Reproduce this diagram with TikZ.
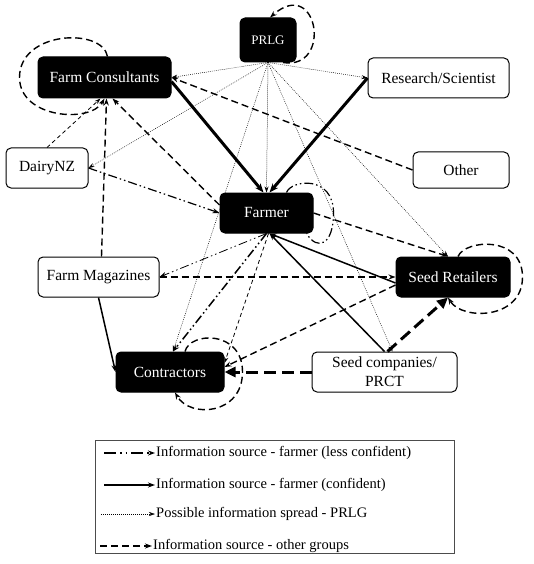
\documentclass[tikz,border=0pt]{standalone}
\usepackage{fontspec}
\setmainfont{Liberation Serif}
\usetikzlibrary{arrows.meta, positioning, calc}

\begin{document}
\begin{tikzpicture}[
        x=1pt, y=1pt,
        box/.style={rectangle, rounded corners=5pt, draw=black, line width=1pt, minimum height=40pt, inner sep=2pt, font=\fontsize{15.5}{19}\selectfont},
        dark/.style={box, fill=black, text=white},
        light/.style={box, fill=white},
        confident/.style={line width=1.5pt, -{Stealth[length=7pt, width=5pt]}},
        strong/.style={line width=3pt, -{Stealth[length=9pt, width=7pt]}},
        lessconf/.style={line width=1.2pt, dash pattern=on 9pt off 3pt on 1.5pt off 3pt on 1.5pt off 3pt, -{Stealth[length=7pt, width=5pt]}},
        spread/.style={line width=0.5pt, dash pattern=on 0.8pt off 1.2pt, -{Stealth[length=6pt, width=4pt]}},
        other/.style={line width=1.4pt, dash pattern=on 7pt off 4pt, -{Stealth[length=7pt, width=5pt]}},
        thindash/.style={line width=0.8pt, dash pattern=on 4pt off 3pt, -{Stealth[length=6pt, width=4pt]}},
        heavy/.style={line width=3pt, dash pattern=on 12pt off 6pt, -{Triangle[length=11pt, width=10pt]}},
        legtext/.style={anchor=west, inner sep=1pt, font=\fontsize{14.5}{17}\selectfont}
    ]
        \useasboundingbox (0,0) rectangle (534,-564);

        \node[dark, minimum width=56pt, minimum height=44pt, font=\fontsize{13}{15}\selectfont] (prlg) at (268,-40) {PRLG};
        \node[dark, minimum width=133pt, minimum height=41pt] (consult) at (104.5,-77.5) {Farm Consultants};
        \node[light, minimum width=141pt] (research) at (438.5,-78) {Research/Scientist};
        \node[light, minimum width=82pt] (dairy) at (47,-168) {DairyNZ};
        \node[light, minimum width=96pt, minimum height=36pt] (other) at (461,-170) {Other};
        \node[dark, minimum width=93pt] (farmer) at (266.5,-213) {Farmer};
        \node[light, minimum width=121pt] (mags) at (98.5,-277) {Farm Magazines};
        \node[dark, minimum width=114pt] (retail) at (453,-277) {Seed Retailers};
        \node[dark, minimum width=108pt] (contract) at (170,-372) {Contractors};
        \node[light, minimum width=145pt, align=center] (seedco) at (384.5,-372) {Seed companies/\\PRCT};

        \draw[spread] (prlg.south) -- (consult.east);
        \draw[spread] (prlg.south) -- (research.west);
        \draw[spread] (prlg.south) -- (dairy.east);
        \draw[spread] (prlg.south) -- (farmer.north);
        \draw[spread] (prlg.south) -- ([xshift=3pt]contract.north);
        \draw[spread] (prlg.south) -- ([xshift=-5pt]retail.north);
        \draw[spread] (prlg.south) -- ([xshift=8pt]seedco.north);

        \draw[strong] ([yshift=-4pt]consult.east) -- ([xshift=-3pt]farmer.north);
        \draw[strong] (research.west) -- ([xshift=3pt]farmer.north);

        \draw[other] (other.west) -- (consult.east);
        \draw[thindash] (dairy.north) -- ([xshift=-4pt]consult.south);
        \draw[other] ([xshift=3pt]mags.north) -- ([xshift=2pt]consult.south);
        \draw[other] ([yshift=8pt]farmer.west) -- ([xshift=8pt]consult.south);
        \draw[lessconf] (dairy.east) -- (farmer.west);
        \draw[lessconf, line width=0.8pt] (farmer.south) -- (mags.east);
        \draw[other] (mags.east) -- (retail.west);
        \draw[confident] (mags.south) -- (contract.west);
        \draw[confident] ([yshift=-6pt]retail.west) -- ([xshift=3pt]farmer.south);
        \draw[confident] (seedco.north) -- ([xshift=3pt]farmer.south);
        \draw[other] (farmer.east) -- ([xshift=-5pt]retail.north);
        \draw[heavy] ([xshift=3pt]seedco.north) -- ([xshift=-5pt]retail.south);
        \draw[heavy] (seedco.west) -- (contract.east);
        \draw[other] ([yshift=-8pt]retail.west) -- ([yshift=5pt]contract.east);
        \draw[lessconf, line width=1.5pt] (farmer.south) -- ([xshift=3pt]contract.north);
        \draw[thindash] ([xshift=2pt]farmer.south) -- ([yshift=9pt]contract.east);

        \draw[other] ([xshift=15pt]prlg.south) .. controls +(50,-8) and +(48,42) .. ([xshift=2pt]prlg.north);
        \draw[other] ([xshift=3pt]consult.north) .. controls +(-5,29) and +(0,47) .. ([xshift=-18pt]consult.west) .. controls +(0,-41) and +(-14,-25) .. (consult.south);
        \draw[other] ([xshift=5pt]retail.north) .. controls +(7,17) and +(0,42) .. ([xshift=12pt]retail.east) .. controls +(0,-43) and +(14,-23) .. ([xshift=-5pt]retail.south);
        \draw[other] ([xshift=15pt]contract.north) .. controls +(5,20) and +(0,42) .. ([xshift=18pt]contract.east) .. controls +(0,-43) and +(15,-26) .. ([xshift=5pt]contract.south);
        \draw[lessconf, -] ([xshift=20pt]farmer.north) .. controls +(5,13) and +(0,38) .. ([xshift=20pt]farmer.east) .. controls +(0,-32) and +(11,-18) .. ([xshift=40pt]farmer.south);

        \node[draw=black!70, line width=0.8pt, minimum width=359pt, minimum height=113pt, inner sep=0pt] (legend) at (274.5,-496.5) {};
        \node[legtext] (leg1) at (155,-453) {Information source - farmer (less confident)};
        \node[legtext] (leg2) at (155,-485) {Information source - farmer (confident)};
        \node[legtext] (leg3) at (155,-514) {Possible information spread - PRLG};
        \node[legtext] (leg4) at (152,-546) {Information source - other groups};
        \coordinate (l1) at (104,-453);
        \coordinate (l2) at (104,-485);
        \coordinate (l3) at (101,-514);
        \coordinate (l4) at (100,-546);
        \draw[lessconf, dash pattern=on 12pt off 4pt on 1.5pt off 4pt on 1.5pt off 4pt] (l1) -- (leg1.west);
        \draw[confident] (l2) -- (leg2.west);
        \draw[spread] (l3) -- (leg3.west);
        \draw[other] (l4) -- (leg4.west);
    \end{tikzpicture}
\end{document}
